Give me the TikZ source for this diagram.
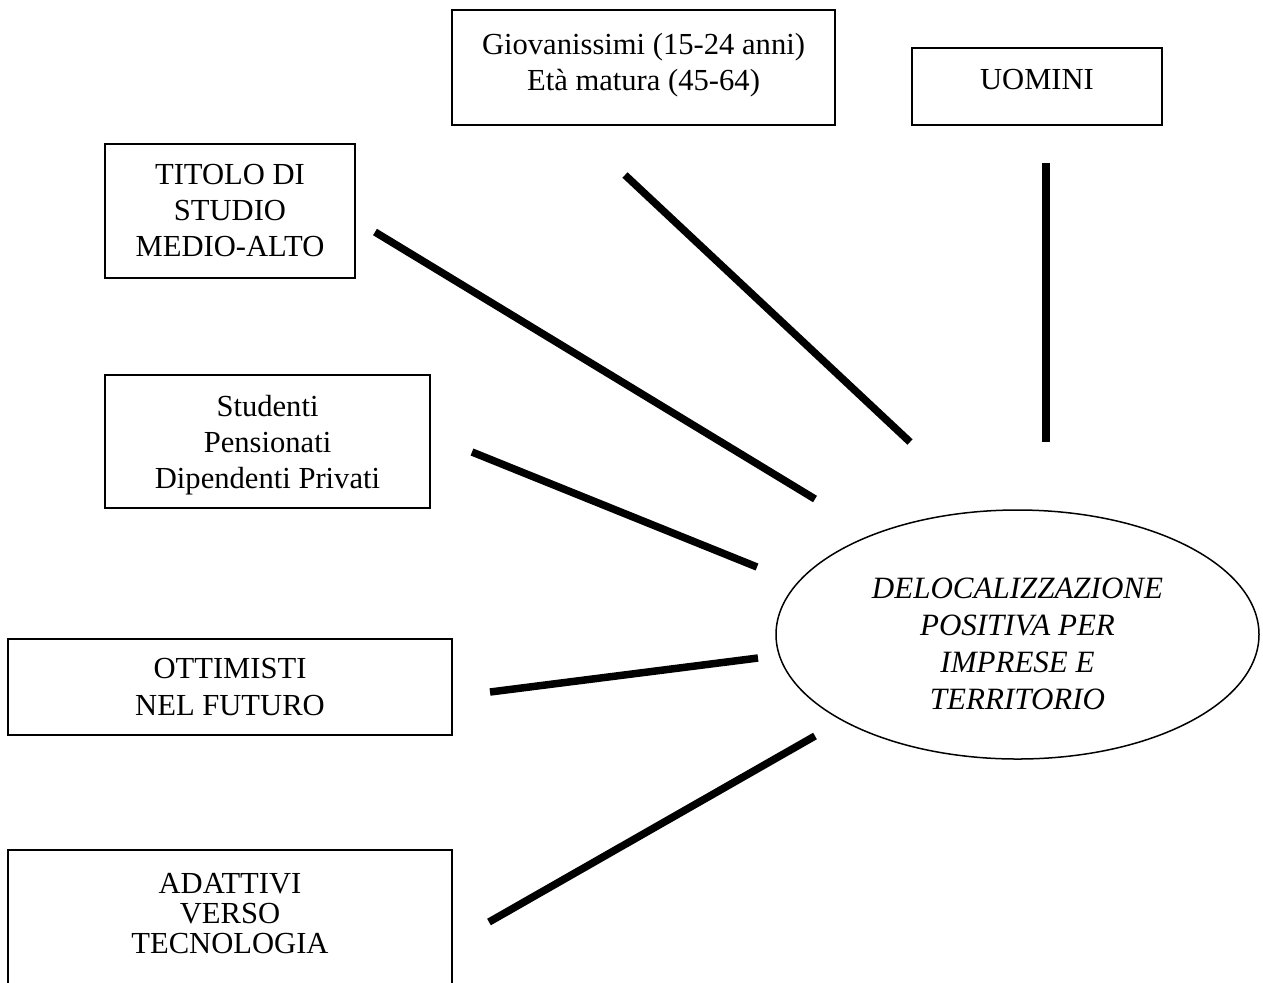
\documentclass[tikz,border=0pt]{standalone}
\usepackage{fontspec}
\setmainfont{Liberation Serif}
\usetikzlibrary{shapes.geometric}

\tikzset{
  box/.style={draw, line width=1pt, align=center, inner sep=0pt,
    font=\fontsize{15.3}{18}\selectfont},
  goal/.style={draw, ellipse, line width=0.75pt, align=center, inner sep=0pt,
    font=\itshape\fontsize{15.5}{18.5}\selectfont},
  spoke/.style={line width=3.75pt},
}

\begin{document}
\begin{tikzpicture}[x=0.5pt,y=-0.5pt]
    \useasboundingbox (0,0) rectangle (1263,982);
    % profile boxes
    \node[box, minimum width=191.5pt, minimum height=57.5pt, text depth=6pt] (giov) at (643.5,67.5)
      {Giovanissimi (15-24 anni)\\Età matura (45-64)};
    \node[box, minimum width=125pt, minimum height=38.5pt, text depth=7.5pt] (uomini) at (1037,86.5) {UOMINI};
    \node[box, minimum width=125pt, minimum height=67pt] (titolo) at (230,211)
      {TITOLO DI\\STUDIO\\MEDIO-ALTO};
    \node[box, minimum width=162.5pt, minimum height=66.5pt, text depth=0pt] (studenti) at (267.5,441.5)
      {Studenti\\Pensionati\\Dipendenti Privati};
    \node[box, minimum width=222pt, minimum height=48pt, font=\fontsize{15.3}{18.5}\selectfont] (ottimisti) at (230,687)
      {OTTIMISTI\\NEL FUTURO};
    \node[box, minimum width=222pt, minimum height=70pt, text depth=7pt, font=\fontsize{15.3}{15}\selectfont] (adattivi) at (230,920)
      {ADATTIVI\\VERSO\\TECNOLOGIA};
    % target
    \node[goal, minimum width=241.5pt, minimum height=124.5pt] (deloc) at (1017.5,634.5)
      {\rule{0pt}{20pt}DELOCALIZZAZIONE\\POSITIVA PER\\IMPRESE E\\TERRITORIO};
    % spoke ends
    \coordinate (giov-a) at (625,175);      \coordinate (giov-b) at (910,442);
    \coordinate (uomini-a) at (1046,163);   \coordinate (uomini-b) at (1046,442);
    \coordinate (titolo-a) at (375,232);    \coordinate (titolo-b) at (815,499);
    \coordinate (studenti-a) at (472,452);  \coordinate (studenti-b) at (757,567);
    \coordinate (ottimisti-a) at (490,692); \coordinate (ottimisti-b) at (758,658);
    \coordinate (adattivi-a) at (489,922);  \coordinate (adattivi-b) at (815,736);
    \foreach \s in {giov,uomini,titolo,studenti,ottimisti,adattivi}
      \draw[spoke] (\s-a) -- (\s-b);
\end{tikzpicture}
\end{document}
